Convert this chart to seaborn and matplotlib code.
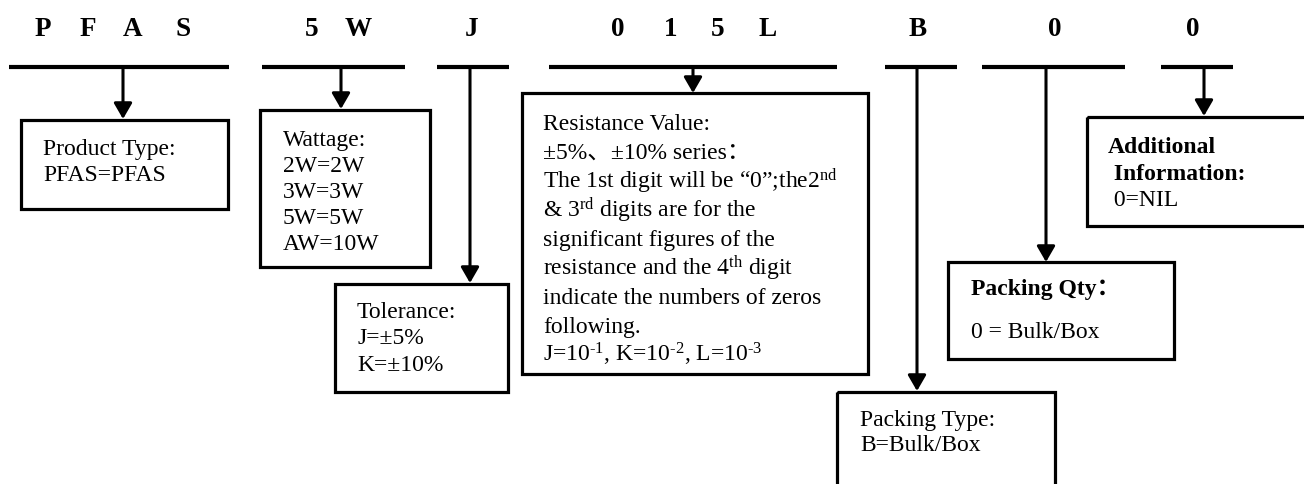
import matplotlib
matplotlib.use("Agg")
import matplotlib.pyplot as plt
from matplotlib.patches import Rectangle
import seaborn as sns

# part number code, one group per field
code_groups = ["PFAS", "5W", "J", "015L", "B", "0", "0"]

# text of each description box
product_lines = ["Product Type:", "PFAS=PFAS"]
wattage_lines = ["Wattage:", "2W=2W", "3W=3W", "5W=5W", "AW=10W"]
tolerance_lines = ["Tolerance:", "J=±5%", "K=±10%"]
resistance_lines = ["Resistance Value:",
                    "±5%、±10% series：",
                    r"The 1st digit will be “0”;the2$^{\mathrm{nd}}$",
                    r"& 3$^{\mathrm{rd}}$ digits are for the",
                    "significant figures of the",
                    r"resistance and the 4$^{\mathrm{th}}$ digit",
                    "indicate the numbers of zeros",
                    "following.",
                    r"J=10$^{\text{-1}}$, K=10$^{\text{-2}}$, L=10$^{\text{-3}}$"]
packing_type_lines = ["Packing Type:", "B=Bulk/Box"]
packing_qty_lines = ["Packing Qty：", "0 = Bulk/Box"]
additional_lines = ["Additional", " Information:", " 0=NIL"]

# ---- layout (pixel coords, y down) ----
char_x = [[43, 88, 133, 183], [312, 358], [472], [618, 671, 718, 768], [918], [1055], [1193]]
seg_x = [(9, 229), (262, 405), (437, 509), (549, 837), (885, 957), (982, 1125), (1161, 1233)]
seg_y = 67
arrow_x = [123, 341, 470, 693, 917, 1046, 1204]
arrow_tip = [119, 109, 283, 93, 391, 262, 116]

boxes = [
    # (x0, y0, x1, y1, text_x, first_baseline, spacing, lines, bold_rows)
    (21, 120, 228, 209, 43, 155, 26, product_lines, []),
    (260, 110, 430, 267, 283, 146, 26, wattage_lines, []),
    (335, 284, 508, 392, 357, 318, 26.5, tolerance_lines, []),
    (522, 93, 868, 374, 543, 130, 29, resistance_lines, []),
    (837, 392, 1055, 520, 860, 426, 25, packing_type_lines, []),
    (948, 262, 1174, 359, 971, 295, 43, packing_qty_lines, [0]),
    (1087, 117, 1320, 226, 1108, 153, 26.5, additional_lines, [0, 1]),
]

sns.set_theme(style="white")
plt.rcParams['font.family'] = ['Liberation Serif', 'Noto Sans CJK SC']
plt.rcParams['mathtext.fontset'] = 'custom'
plt.rcParams['mathtext.rm'] = 'Liberation Serif'
plt.rcParams['mathtext.it'] = 'Liberation Serif:italic'
plt.rcParams['mathtext.bf'] = 'Liberation Serif:bold'

fig = plt.figure(figsize=(13.04, 4.84), dpi=100)
ax = fig.add_axes([0, 0, 1, 1])
ax.set_xlim(0, 1304)
ax.set_ylim(484, 0)
ax.axis("off")

# code letters
for grp, xs in zip(code_groups, char_x):
    for ch, x in zip(grp, xs):
        ax.text(x, 36, ch, ha="center", va="baseline", fontsize=19.5,
                fontweight="bold", color="black")

# field bars and connectors
for (x0, x1), ax_x, tip in zip(seg_x, arrow_x, arrow_tip):
    ax.plot([x0, x1], [seg_y, seg_y], color="black", lw=3.0, solid_capstyle="butt")
    ax.annotate("", xy=(ax_x, tip), xytext=(ax_x, seg_y), annotation_clip=False,
                arrowprops=dict(arrowstyle="-|>,head_length=0.95,head_width=0.55",
                                mutation_scale=10, lw=2.2, color="black",
                                shrinkA=0, shrinkB=0))

# description boxes
for x0, y0, x1, y1, tx, by, sp, lines, bold_rows in boxes:
    ax.add_patch(Rectangle((x0, y0), x1 - x0, y1 - y0, fill=False,
                           edgecolor="black", lw=2.3, clip_on=True))
    for i, line in enumerate(lines):
        ax.text(tx, by + i * sp, line, ha="left", va="baseline", fontsize=17,
                fontweight="bold" if i in bold_rows else "normal", color="black")

fig.savefig("out.png", dpi=100)
